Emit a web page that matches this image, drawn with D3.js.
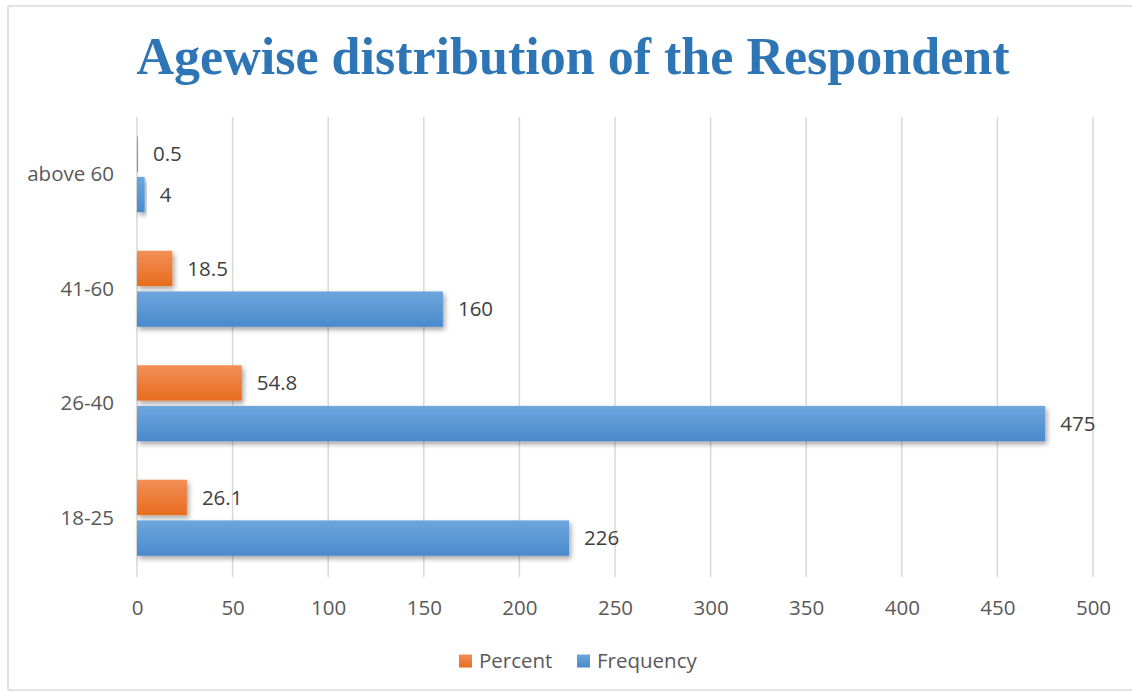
<!DOCTYPE html>
<html>
<head>
<meta charset="utf-8">
<script src="https://cdn.jsdelivr.net/npm/d3@7"></script>
<style>
  body { margin: 0; background: #fff; }
  text { font-family: "Open Sans", "Noto Sans", sans-serif; }
</style>
</head>
<body>
<svg id="chart"></svg>
<script>
var categories = ["above 60", "41-60", "26-40", "18-25"];
var frequency = [4, 160, 475, 226];
var percent = [0.5, 18.5, 54.8, 26.1];
var seriesNames = ["Percent", "Frequency"];
var xDomain = [0, 500];

var screen = {width: 1132, height: 692};
var plot = {left: 137, right: 1093, top: 117, bottom: 575};
var labelSize = "20.5px";

var svg = d3.select("#chart")
  .attr("width", screen.width)
  .attr("height", screen.height);

// gradients + shadow
var defs = svg.append("defs");
var grads = {
  Percent: ["#f28f58", "#e86c1d"],
  Frequency: ["#6ea6dd", "#4a89cd"]
};
seriesNames.forEach(function(name){
  var g = defs.append("linearGradient")
    .attr("id", "grad-" + name)
    .attr("x1", 0).attr("y1", 0).attr("x2", 0).attr("y2", 1);
  g.append("stop").attr("offset", "0%").attr("stop-color", grads[name][0]);
  g.append("stop").attr("offset", "100%").attr("stop-color", grads[name][1]);
});
var f = defs.append("filter").attr("id", "shadow")
  .attr("x", "-10%").attr("y", "-30%").attr("width", "130%").attr("height", "180%");
f.append("feDropShadow")
  .attr("dx", 2).attr("dy", 3).attr("stdDeviation", 2.5)
  .attr("flood-color", "#000").attr("flood-opacity", 0.35);

// frame
svg.append("rect")
  .attr("x", 8).attr("y", 6)
  .attr("width", 1140).attr("height", 684)
  .attr("fill", "none")
  .attr("stroke", "#d9d9d9")
  .attr("stroke-width", 1.5);

// title
svg.append("text")
  .attr("x", 573).attr("y", 74)
  .attr("text-anchor", "middle")
  .attr("textLength", 873)
  .attr("lengthAdjust", "spacingAndGlyphs")
  .style("font-family", "'Liberation Serif', 'DejaVu Serif', serif")
  .style("font-weight", "bold")
  .style("font-size", "53px")
  .attr("fill", "#2e75b6")
  .text("Agewise distribution of the Respondent");

var xScale = d3.scaleLinear()
  .domain(xDomain)
  .range([plot.left, plot.right]);

var yScale = d3.scaleBand()
  .domain(categories)
  .range([plot.top, plot.bottom])
  .paddingInner(0.336)
  .paddingOuter(0.168);

var ySub = d3.scaleBand()
  .domain(seriesNames)
  .range([0, yScale.bandwidth()])
  .paddingInner(0.13);

// gridlines
svg.append("g")
  .selectAll("line")
  .data(xScale.ticks(10))
  .enter()
  .append("line")
  .attr("x1", function(d){ return xScale(d); })
  .attr("x2", function(d){ return xScale(d); })
  .attr("y1", plot.top)
  .attr("y2", plot.bottom + 2)
  .attr("stroke", "#d9d9d9")
  .attr("stroke-width", 1.5);

// x axis labels
var xAxis = d3.axisBottom(xScale).ticks(10).tickSize(0).tickPadding(0);
var xg = svg.append("g")
  .attr("transform", "translate(0," + (plot.bottom + 40) + ")")
  .call(xAxis);
xg.select(".domain").remove();
xg.selectAll("text")
  .attr("y", 0)
  .attr("dy", 0)
  .attr("fill", "#595959")
  .style("font-family", "'Open Sans', 'Noto Sans', sans-serif")
  .style("font-size", labelSize);

// y axis labels
var yAxis = d3.axisLeft(yScale).tickSize(0).tickPadding(0);
var yg = svg.append("g")
  .attr("transform", "translate(" + (plot.left - 23) + ",0)")
  .call(yAxis);
yg.select(".domain").remove();
yg.selectAll("text")
  .attr("dy", "0.35em")
  .attr("fill", "#595959")
  .style("font-family", "'Open Sans', 'Noto Sans', sans-serif")
  .style("font-size", labelSize);

// bars
var rows = categories.map(function(c, i){
  return [
    {cat: c, series: "Percent", value: percent[i]},
    {cat: c, series: "Frequency", value: frequency[i]}
  ];
});
var flat = [].concat.apply([], rows);

var barG = svg.append("g");
barG.selectAll("rect")
  .data(flat)
  .enter()
  .append("rect")
  .attr("x", xScale(0))
  .attr("y", function(d){ return yScale(d.cat) + ySub(d.series); })
  .attr("width", function(d){ return xScale(d.value) - xScale(0); })
  .attr("height", ySub.bandwidth())
  .attr("fill", function(d){ return "url(#grad-" + d.series + ")"; })
  .attr("filter", "url(#shadow)");

// value labels
barG.selectAll("text")
  .data(flat)
  .enter()
  .append("text")
  .attr("x", function(d){ return xScale(d.value) + 15; })
  .attr("y", function(d){ return yScale(d.cat) + ySub(d.series) + ySub.bandwidth() / 2; })
  .attr("dy", "0.35em")
  .attr("fill", "#404040")
  .style("font-size", labelSize)
  .text(function(d){ return d.value; });

// legend
var legend = svg.append("g").attr("transform", "translate(459,661)");
var lx = [0, 118];
seriesNames.forEach(function(name, i){
  legend.append("rect")
    .attr("x", lx[i]).attr("y", -6.5)
    .attr("width", 13).attr("height", 13)
    .attr("fill", "url(#grad-" + name + ")");
  legend.append("text")
    .attr("x", lx[i] + 20).attr("y", 0)
    .attr("dy", "0.35em")
    .attr("fill", "#595959")
    .style("font-size", labelSize)
    .text(name);
});
</script>
</body>
</html>
